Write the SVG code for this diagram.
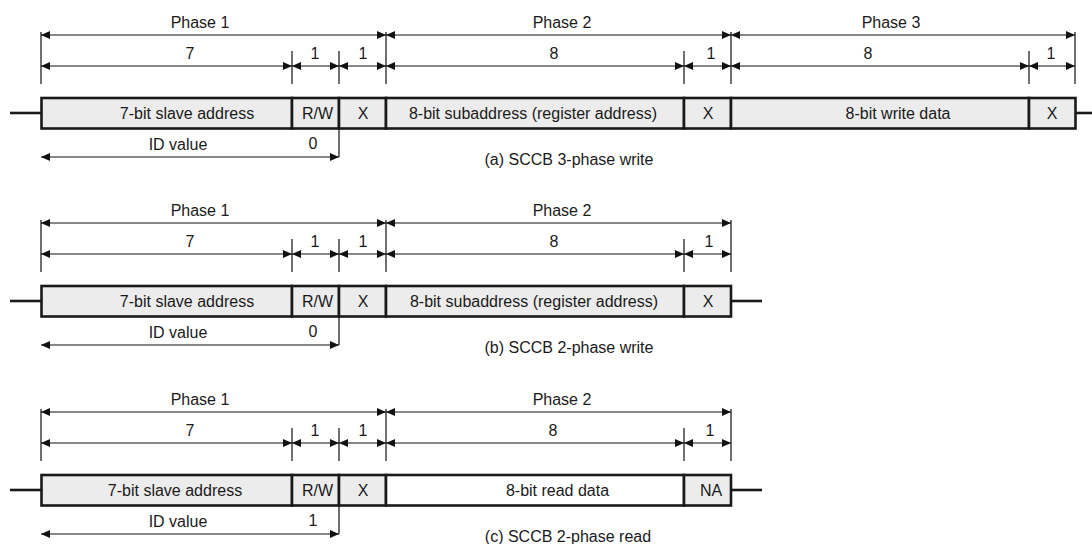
<svg xmlns="http://www.w3.org/2000/svg" width="1092" height="544" viewBox="0 0 1092 544">
<defs>
<marker id="ah" viewBox="0 0 9 8" refX="9" refY="4" markerWidth="9" markerHeight="8" markerUnits="userSpaceOnUse" orient="auto-start-reverse">
<path d="M0,0 L9,4 L0,8 z" fill="#111"/>
</marker>
<style>
text{font-family:"Liberation Sans",Arial,sans-serif;font-size:16px;fill:#1a1a1a;text-anchor:middle}
.dim{stroke:#111;stroke-width:1.1;fill:none;marker-start:url(#ah);marker-end:url(#ah)}
.tick{stroke:#111;stroke-width:1.2;fill:none}
.box{fill:#ececec;stroke:#1a1a1a;stroke-width:2.6}
.wbox{fill:#ffffff;stroke:#1a1a1a;stroke-width:2.6}
.lead{stroke:#1a1a1a;stroke-width:2.6;fill:none}
</style>
</defs>

<!-- ===== (a) SCCB 3-phase write ===== -->
<g id="diagram-a">
<g id="a-connectors">
<path class="tick" d="M41,32V84 M386,32V84 M731,32V84 M1075,32V84 M292,51V84 M339,51V84 M684,51V84 M1029,51V84 M339,129V157"/>
<line class="dim" x1="41" y1="35" x2="386" y2="35"/>
<line class="dim" x1="386" y1="35" x2="731" y2="35"/>
<line class="dim" x1="731" y1="35" x2="1075" y2="35"/>
<line class="dim" x1="41" y1="66" x2="292" y2="66"/>
<line class="dim" x1="292" y1="66" x2="339" y2="66"/>
<line class="dim" x1="339" y1="66" x2="386" y2="66"/>
<line class="dim" x1="386" y1="66" x2="684" y2="66"/>
<line class="dim" x1="684" y1="66" x2="731" y2="66"/>
<line class="dim" x1="731" y1="66" x2="1029" y2="66"/>
<line class="dim" x1="1029" y1="66" x2="1075" y2="66"/>
<line class="dim" x1="41" y1="157" x2="339" y2="157"/>
<line class="lead" x1="10" y1="113" x2="41" y2="113"/>
<line class="lead" x1="1076" y1="113" x2="1092" y2="113"/>
</g>
<g id="a-labels">
<text x="200" y="27.5">Phase 1</text>
<text x="562" y="27.5">Phase 2</text>
<text x="891" y="27.5">Phase 3</text>
<text x="190" y="58.5">7</text>
<text x="315" y="58.5">1</text>
<text x="363" y="58.5">1</text>
<text x="554" y="58.5">8</text>
<text x="711" y="58.5">1</text>
<text x="868" y="58.5">8</text>
<text x="1051" y="58.5">1</text>
<text x="178" y="149.5">ID value</text>
<text x="313" y="149">0</text>
<text x="569" y="165">(a) SCCB 3-phase write</text>
</g>
<g id="a-slave"><rect class="box" x="41.5" y="98" width="250.5" height="30.5"/><text x="187" y="118.5">7-bit slave address</text></g>
<g id="a-rw"><rect class="box" x="292" y="98" width="47" height="30.5"/><text x="317.5" y="118.5">R/W</text></g>
<g id="a-x1"><rect class="box" x="339" y="98" width="47" height="30.5"/><text x="363" y="118.5">X</text></g>
<g id="a-sub"><rect class="box" x="386" y="98" width="298" height="30.5"/><text x="533" y="118.5">8-bit subaddress (register address)</text></g>
<g id="a-x2"><rect class="box" x="684" y="98" width="47" height="30.5"/><text x="708" y="118.5">X</text></g>
<g id="a-data"><rect class="box" x="731" y="98" width="298" height="30.5"/><text x="898" y="118.5">8-bit write data</text></g>
<g id="a-x3"><rect class="box" x="1029" y="98" width="46.5" height="30.5"/><text x="1052" y="118.5">X</text></g>
</g>

<!-- ===== (b) SCCB 2-phase write ===== -->
<g id="diagram-b" transform="translate(0,188)">
<g id="b-connectors">
<path class="tick" d="M41,32V84 M386,32V84 M731,32V84 M292,51V84 M339,51V84 M684,51V84 M339,129V157"/>
<line class="dim" x1="41" y1="35" x2="386" y2="35"/>
<line class="dim" x1="386" y1="35" x2="731" y2="35"/>
<line class="dim" x1="41" y1="66" x2="292" y2="66"/>
<line class="dim" x1="292" y1="66" x2="339" y2="66"/>
<line class="dim" x1="339" y1="66" x2="386" y2="66"/>
<line class="dim" x1="386" y1="66" x2="684" y2="66"/>
<line class="dim" x1="684" y1="66" x2="731" y2="66"/>
<line class="dim" x1="41" y1="157" x2="339" y2="157"/>
<line class="lead" x1="10" y1="113" x2="41" y2="113"/>
<line class="lead" x1="731" y1="113" x2="762" y2="113"/>
</g>
<g id="b-labels">
<text x="200" y="27.5">Phase 1</text>
<text x="562" y="27.5">Phase 2</text>
<text x="190" y="58.5">7</text>
<text x="315" y="58.5">1</text>
<text x="363" y="58.5">1</text>
<text x="554" y="58.5">8</text>
<text x="709" y="58.5">1</text>
<text x="178" y="149.5">ID value</text>
<text x="313" y="149">0</text>
<text x="569" y="165">(b) SCCB 2-phase write</text>
</g>
<g id="b-slave"><rect class="box" x="41.5" y="98" width="250.5" height="30.5"/><text x="187" y="118.5">7-bit slave address</text></g>
<g id="b-rw"><rect class="box" x="292" y="98" width="47" height="30.5"/><text x="317.5" y="118.5">R/W</text></g>
<g id="b-x1"><rect class="box" x="339" y="98" width="47" height="30.5"/><text x="363" y="118.5">X</text></g>
<g id="b-sub"><rect class="box" x="386" y="98" width="298" height="30.5"/><text x="534" y="118.5">8-bit subaddress (register address)</text></g>
<g id="b-x2"><rect class="box" x="684" y="98" width="47" height="30.5"/><text x="708" y="118.5">X</text></g>
</g>

<!-- ===== (c) SCCB 2-phase read ===== -->
<g id="diagram-c" transform="translate(0,377)">
<g id="c-connectors">
<path class="tick" d="M41,32V84 M386,32V84 M731,32V84 M292,51V84 M339,51V84 M684,51V84 M339,129V157"/>
<line class="dim" x1="41" y1="35" x2="386" y2="35"/>
<line class="dim" x1="386" y1="35" x2="731" y2="35"/>
<line class="dim" x1="41" y1="66" x2="292" y2="66"/>
<line class="dim" x1="292" y1="66" x2="339" y2="66"/>
<line class="dim" x1="339" y1="66" x2="386" y2="66"/>
<line class="dim" x1="386" y1="66" x2="684" y2="66"/>
<line class="dim" x1="684" y1="66" x2="731" y2="66"/>
<line class="dim" x1="41" y1="157" x2="339" y2="157"/>
<line class="lead" x1="10" y1="113" x2="41" y2="113"/>
<line class="lead" x1="731" y1="113" x2="762" y2="113"/>
</g>
<g id="c-labels">
<text x="200" y="27.5">Phase 1</text>
<text x="562" y="27.5">Phase 2</text>
<text x="190" y="58.5">7</text>
<text x="315" y="58.5">1</text>
<text x="363" y="58.5">1</text>
<text x="553" y="58.5">8</text>
<text x="710" y="58.5">1</text>
<text x="178" y="149.5">ID value</text>
<text x="313" y="149">1</text>
<text x="568" y="165">(c) SCCB 2-phase read</text>
</g>
<g id="c-slave"><rect class="box" x="41.5" y="98" width="250.5" height="30.5"/><text x="175" y="118.5">7-bit slave address</text></g>
<g id="c-rw"><rect class="box" x="292" y="98" width="47" height="30.5"/><text x="317.5" y="118.5">R/W</text></g>
<g id="c-x1"><rect class="box" x="339" y="98" width="47" height="30.5"/><text x="363" y="118.5">X</text></g>
<g id="c-data"><rect class="wbox" x="386" y="98" width="298" height="30.5"/><text x="557.5" y="118.5">8-bit read data</text></g>
<g id="c-na"><rect class="box" x="684" y="98" width="47" height="30.5"/><text x="711" y="118.5">NA</text></g>
</g>
</svg>
